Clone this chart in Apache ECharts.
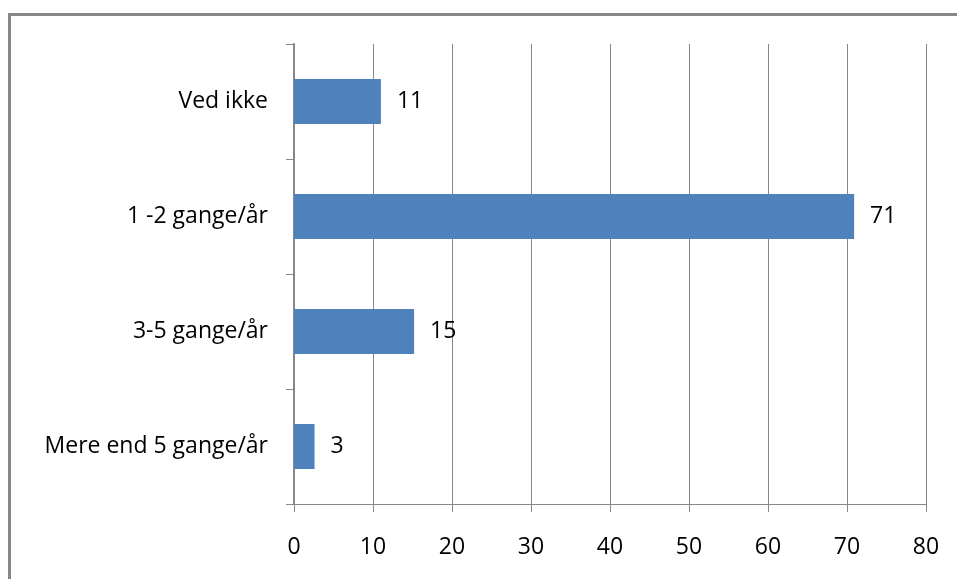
<!DOCTYPE html>
<html>
<head>
<meta charset="utf-8">
<script src="https://cdn.jsdelivr.net/npm/echarts@6/dist/echarts.min.js"></script>
<style>html,body{margin:0;padding:0;background:#fff;}#c{width:957px;height:579px;}</style>
</head>
<body>
<div id="c"></div>
<script>
const categories = ["Ved ikke", "1 -2 gange/år", "3-5 gange/år", "Mere end 5 gange/år"];
const values = [11, 70.9, 15.2, 2.6];
const labelsShown = ["11", "71", "15", "3"];
const xTicks = [0, 10, 20, 30, 40, 50, 60, 70, 80];

const chart = echarts.init(document.getElementById('c'), null, {renderer: 'canvas'});
const FONT = '"Open Sans", Lato, sans-serif';
chart.setOption({
  animation: false,
  backgroundColor: '#fff',
  graphic: [{
    type: 'rect', shape: {x: 9.5, y: 14.5, width: 1000, height: 1000},
    style: {fill: 'none', stroke: '#878787', lineWidth: 3}, silent: true
  }],
  grid: {left: 294, right: 31, top: 44, bottom: 75, containLabel: false},
  xAxis: {
    type: 'value', min: xTicks[0], max: xTicks[xTicks.length - 1], interval: 10,
    axisLine: {show: true, lineStyle: {color: '#878787', width: 1}},
    axisTick: {show: true, length: 8, lineStyle: {color: '#878787'}},
    splitLine: {show: true, lineStyle: {color: '#878787', width: 1}},
    axisLabel: {color: '#000', fontFamily: FONT, fontSize: 23, margin: 32}
  },
  yAxis: {
    type: 'category', data: categories, inverse: true,
    axisLine: {show: true, lineStyle: {color: '#878787', width: 2}},
    axisTick: {show: true, length: 8, lineStyle: {color: '#878787'}},
    axisLabel: {color: '#000', fontFamily: FONT, fontSize: 23, margin: 26}
  },
  series: [{
    type: 'bar', data: values, barWidth: 45,
    itemStyle: {color: '#4F81BD'},
    label: {show: true, position: 'right', distance: 16, color: '#000', fontFamily: FONT, fontSize: 23,
      formatter: p => labelsShown[p.dataIndex]}
  }]
});
</script>
</body>
</html>
